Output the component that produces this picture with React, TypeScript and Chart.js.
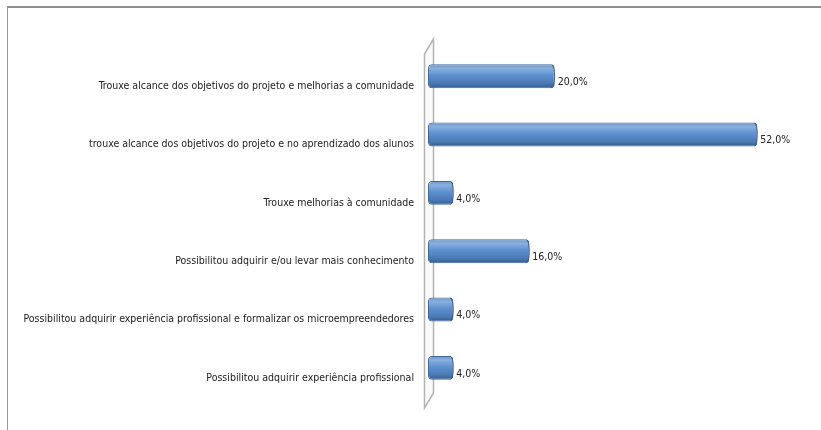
import { useEffect, useRef } from 'react';
import { Chart, registerables } from 'chart.js';

Chart.register(...registerables);

const categories = [
  'Trouxe alcance dos objetivos do projeto e melhorias a comunidade',
  'trouxe alcance dos objetivos do projeto e no aprendizado dos alunos',
  'Trouxe melhorias à comunidade',
  'Possibilitou adquirir e/ou levar mais conhecimento',
  'Possibilitou adquirir experiência profissional e formalizar os microempreendedores',
  'Possibilitou adquirir experiência profissional',
];
const values = [20, 52, 4, 16, 4, 4];
const valueLabels = ['20,0%', '52,0%', '4,0%', '16,0%', '4,0%', '4,0%'];

const FONT_FAMILY = "'Liberation Sans Narrow', 'DejaVu Sans Condensed', sans-serif";
const FONT_SIZE = 10.5;

const wallPlugin = {
  id: 'wall3d',
  beforeDatasetsDraw(chart: any) {
    const { ctx, chartArea } = chart;
    const L = chartArea.left;
    const front = L - 3.5;
    const back = L + 5.5;
    const topBack = chartArea.top - 8;
    const topFront = chartArea.top + 7;
    const bottomFront = chartArea.bottom + 11;
    const bottomBack = chartArea.bottom - 4;
    ctx.save();
    ctx.beginPath();
    ctx.moveTo(back, topBack);
    ctx.lineTo(front, topFront);
    ctx.lineTo(front, bottomFront);
    ctx.lineTo(back, bottomBack);
    ctx.closePath();
    ctx.fillStyle = '#fbfbfb';
    ctx.fill();
    ctx.strokeStyle = '#b3b3b3';
    ctx.lineWidth = 1.5;
    ctx.stroke();
    ctx.restore();
  },
  afterDatasetsDraw(chart: any) {
    const { ctx } = chart;
    const meta = chart.getDatasetMeta(0);
    ctx.save();
    meta.data.forEach((el: any, i: number) => {
      const h = el.height;
      // cylinder end cap
      ctx.beginPath();
      ctx.ellipse(el.x - 3, el.y, 3, h / 2 - 0.5, 0, -Math.PI / 2, Math.PI / 2);
      ctx.strokeStyle = 'rgba(40,70,115,0.75)';
      ctx.lineWidth = 1;
      ctx.stroke();
      // value label
      ctx.fillStyle = '#222222';
      ctx.font = `${FONT_SIZE}px ${FONT_FAMILY}`;
      ctx.textAlign = 'left';
      ctx.textBaseline = 'middle';
      ctx.fillText(valueLabels[i], el.x + 3, el.y + 6);
    });
    ctx.restore();
  },
};

export default function App() {
  const canvasRef = useRef<HTMLCanvasElement | null>(null);

  useEffect(() => {
    if (!canvasRef.current) return;
    const chart = new Chart(canvasRef.current, {
      type: 'bar',
      data: {
        labels: categories,
        datasets: [
          {
            data: values,
            backgroundColor: (context: any) => {
              const chart = context.chart;
              const yScale = chart.scales?.y;
              if (!yScale || !chart.chartArea) return '#5b8ccb';
              const c = yScale.getPixelForValue(context.dataIndex);
              const g = chart.ctx.createLinearGradient(0, c - 12, 0, c + 12);
              g.addColorStop(0, '#6f95c8');
              g.addColorStop(0.18, '#8ab0de');
              g.addColorStop(0.45, '#5f91d0');
              g.addColorStop(0.8, '#4a79b4');
              g.addColorStop(1, '#355b8c');
              return g;
            },
            borderColor: '#3f6898',
            borderWidth: 1,
            borderSkipped: false,
            borderRadius: 4,
            categoryPercentage: 1,
            barPercentage: 0.41,
          },
        ],
      },
      options: {
        indexAxis: 'y',
        animation: false,
        responsive: true,
        maintainAspectRatio: false,
        layout: { padding: { top: 47, bottom: 33, right: 13, left: 0 } },
        plugins: {
          legend: { display: false },
          tooltip: { enabled: false },
        },
        scales: {
          x: {
            display: false,
            min: 0,
            max: 60,
          },
          y: {
            afterFit: (scale: any) => {
              scale.width = 428;
            },
            grid: { display: false, drawTicks: false },
            border: { display: false },
            ticks: {
              padding: 14,
              labelOffset: 10,
              color: '#222222',
              font: { family: FONT_FAMILY, size: FONT_SIZE },
              autoSkip: false,
            },
          },
        },
      },
      plugins: [wallPlugin],
    });
    return () => chart.destroy();
  }, []);

  return (
    <div
      style={{
        position: 'fixed',
        left: 0,
        top: 0,
        width: 821,
        height: 430,
        background: '#ffffff',
        overflow: 'hidden',
      }}
    >
      <div
        style={{
          position: 'absolute',
          left: 7,
          top: 6,
          width: 900,
          height: 500,
          borderTop: '2px solid #8e8e8e',
          borderLeft: '1px solid #9a9a9a',
        }}
      />
      <canvas ref={canvasRef} style={{ position: 'absolute', left: 0, top: 0 }} />
    </div>
  );
}
